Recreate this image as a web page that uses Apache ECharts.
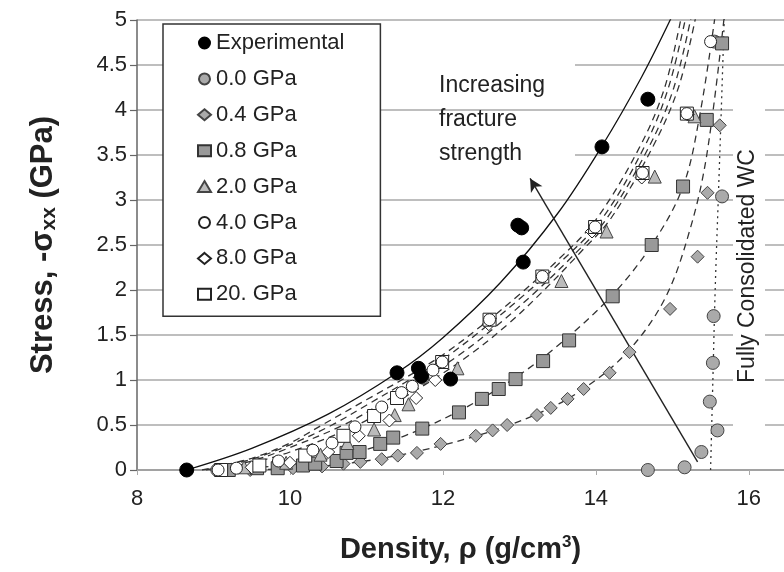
<!DOCTYPE html>
<html><head><meta charset="utf-8">
<script src="https://cdn.jsdelivr.net/npm/echarts@6/dist/echarts.min.js"></script>
<style>html,body{margin:0;padding:0;background:#fff}#c{width:784px;height:572px}</style>
</head><body><div id="c"></div>
<script>
// ---- tick settings
const xMin = 8, xMax = 16.46, xInterval = 2;
const yMin = 0, yMax = 5, yInterval = 0.5;

// ---- measured points [density, stress]
const experimental = [[8.65,0],[11.4,1.08],[11.68,1.13],[11.72,1.04],[12.1,1.01],[12.98,2.72],[13.03,2.69],[13.05,2.31],[14.08,3.59],[14.68,4.12]];
const gpa00 = [[9.05,0.0],[14.68,0.0],[15.16,0.03],[15.38,0.2],[15.59,0.44],[15.49,0.76],[15.53,1.19],[15.54,1.71],[15.65,3.04],[15.55,4.76]];
const gpa04 = [[9.48,0.0],[10.04,0.02],[10.42,0.04],[10.7,0.07],[10.92,0.09],[11.2,0.12],[11.41,0.16],[11.66,0.19],[11.97,0.29],[12.43,0.38],[12.65,0.44],[12.84,0.5],[13.23,0.61],[13.41,0.69],[13.63,0.79],[13.84,0.9],[14.18,1.08],[14.44,1.31],[14.97,1.79],[15.33,2.37],[15.46,3.08],[15.62,3.83]];
const gpa08 = [[9.2,0.0],[9.57,0.02],[9.84,0.02],[10.17,0.05],[10.33,0.07],[10.61,0.1],[10.74,0.19],[10.91,0.2],[11.18,0.29],[11.35,0.36],[11.73,0.46],[12.21,0.64],[12.51,0.79],[12.73,0.9],[12.95,1.01],[13.31,1.21],[13.65,1.44],[14.22,1.93],[14.73,2.5],[15.14,3.15],[15.45,3.89],[15.65,4.74]];
const gpa20 = [[9.4,0.03],[9.95,0.08],[10.4,0.17],[10.75,0.3],[11.1,0.45],[11.37,0.61],[11.55,0.73],[12.19,1.13],[13.55,2.1],[14.14,2.65],[14.77,3.26],[15.29,3.93]];
const gpa40 = [[9.06,0.0],[9.3,0.02],[9.85,0.1],[10.3,0.22],[10.55,0.3],[10.85,0.48],[11.2,0.7],[11.46,0.86],[11.6,0.93],[11.74,1.02],[11.87,1.11],[11.99,1.2],[12.61,1.67],[13.3,2.15],[13.99,2.7],[14.61,3.3],[15.19,3.96],[15.5,4.76]];
const gpa80 = [[9.5,0.03],[10.0,0.08],[10.5,0.2],[10.9,0.38],[11.3,0.55],[11.65,0.8],[11.9,1.0],[12.6,1.62],[13.95,2.65],[14.6,3.25],[15.2,3.95]];
const gpa200 = [[9.1,0.0],[9.6,0.05],[10.2,0.16],[10.7,0.38],[11.1,0.6],[11.4,0.8],[11.99,1.2],[12.61,1.67],[13.3,2.15],[13.99,2.7],[14.61,3.3],[15.19,3.96]];

// ---- fitted curves [density, stress]
const fitExperimental = [[8.65,0],[9.5,0.24],[10.5,0.62],[11.4,1.08],[12.0,1.47],[12.75,2.08],[13.5,2.85],[14.08,3.6],[14.6,4.37],[15.0,5.05]];
const fit200 = [[8.85,0],[9.5,0.13],[10.0,0.3],[10.42,0.5],[11.0,0.78],[11.5,1.02],[12.0,1.28],[12.5,1.6],[13.0,1.95],[13.5,2.33],[14.0,2.78],[14.58,3.6],[14.9,4.25],[15.12,5.05]];
const fit80 = [[8.9,0],[9.5,0.12],[10.0,0.28],[10.55,0.5],[11.0,0.72],[11.5,0.97],[12.0,1.23],[12.5,1.55],[13.0,1.9],[13.5,2.28],[14.07,2.78],[14.64,3.6],[14.95,4.25],[15.18,5.05]];
const fit40 = [[8.95,0],[9.5,0.1],[10.0,0.25],[10.7,0.5],[11.2,0.74],[11.7,1.0],[12.2,1.27],[12.7,1.6],[13.2,1.97],[13.7,2.38],[14.13,2.78],[14.7,3.6],[15.02,4.25],[15.25,5.05]];
const fit20 = [[9.0,0],[9.5,0.08],[10.0,0.2],[10.88,0.5],[11.4,0.76],[11.9,1.02],[12.35,1.28],[12.85,1.62],[13.3,1.98],[13.8,2.42],[14.2,2.8],[14.75,3.6],[15.08,4.25],[15.31,5.05]];
const fit08 = [[9.0,0],[10.0,0.06],[10.8,0.18],[11.5,0.38],[12.2,0.65],[12.9,1.0],[13.5,1.38],[14.2,1.93],[14.73,2.5],[15.14,3.15],[15.36,3.95],[15.56,5.05]];
const fit04 = [[9.4,0],[10.4,0.04],[11.4,0.16],[12.4,0.37],[13.2,0.61],[13.8,0.88],[14.4,1.3],[14.9,1.9],[15.23,2.67],[15.45,3.5],[15.68,5.05]];
const fit00 = [[15.5,0],[15.53,1.0],[15.56,2.0],[15.6,3.0],[15.64,4.0],[15.68,5.05]];

// ---- arrow and labels
const arrowStart = [15.33, 0.09];
const arrowEnd = [13.14, 3.24];
const annotationLines = ['Increasing', 'fracture', 'strength'];
const wallLabel = 'Fully Consolidated WC';
const legendNames = ['Experimental','0.0 GPa','0.4 GPa','0.8 GPa','2.0 GPa','4.0 GPa','8.0 GPa','20. GPa'];

const FONT = '"Liberation Sans", Arial, sans-serif';
const chart = echarts.init(document.getElementById('c'), null, {renderer:'canvas'});

function pts(name, data, symbol, fill, border, size) {
  return {name, type:'scatter', data, symbol, symbolSize:size, z:5,
    itemStyle:{color:fill, borderColor:border, borderWidth:1, opacity:1}};
}
function curve(name, data, type, color) {
  return {name, type:'line', data, showSymbol:false, smooth:0.35, z:3, silent:true,
    lineStyle:{color:color||'#333', width:1.3, type}};
}

const annoGraphics = annotationLines.map((t, i) => ({
  type:'text', left:439, top:74 + i*34, silent:true, z:2,
  style:{text:t, font:'23px ' + FONT, fill:'#222'}
}));

chart.setOption({
  animation:false,
  backgroundColor:'#fff',
  grid:{left:137, right:0, top:20, bottom:102, containLabel:false},
  xAxis:{type:'value', min:xMin, max:xMax, interval:xInterval,
    name:'Density, ρ (g/cm{p|3})', nameLocation:'middle', nameGap:64,
    nameTextStyle:{fontFamily:FONT, fontSize:29, fontWeight:'bold', color:'#222',
      rich:{p:{fontFamily:FONT, fontSize:17, fontWeight:'bold', color:'#222', padding:[0,0,14,0]}}},
    axisLine:{show:true, lineStyle:{color:'#999', width:1.5}},
    axisTick:{show:true, inside:false, length:5, lineStyle:{color:'#aaa', width:1}},
    axisLabel:{fontFamily:FONT, fontSize:22, color:'#222', margin:18, showMaxLabel:false},
    splitLine:{show:false}},
  yAxis:{type:'value', min:yMin, max:yMax, interval:yInterval,
    name:'Stress, -σ{s|xx} (GPa)', nameLocation:'middle', nameGap:77,
    nameTextStyle:{fontFamily:FONT, fontSize:31, fontWeight:'bold', color:'#222',
      rich:{s:{fontFamily:FONT, fontSize:21, fontWeight:'bold', color:'#222', padding:[13,0,0,0]}}},
    axisLine:{show:true, onZero:false, lineStyle:{color:'#666', width:1.5}},
    axisTick:{show:true, length:7, lineStyle:{color:'#666', width:1.2}},
    axisLabel:{fontFamily:FONT, fontSize:22, color:'#222', margin:10,
      formatter:v => String(Math.round(v*10)/10)},
    splitLine:{show:true, lineStyle:{color:'#a8a8a8', width:1.5}}},
  legend:{data:legendNames, orient:'vertical', left:163, top:24,
    padding:[8,36,11,34], itemGap:13.9, itemWidth:13, itemHeight:11,
    backgroundColor:'#fff', borderColor:'#333', borderWidth:1.5,
    textStyle:{fontFamily:FONT, fontSize:22, color:'#222'}, selectedMode:false},
  graphic:[
    {type:'rect', silent:true, z:1, shape:{x:381, y:57, width:194, height:12}, style:{fill:'#fff'}},
    {type:'rect', silent:true, z:1, shape:{x:381, y:149, width:194, height:12}, style:{fill:'#fff'}},
    {type:'rect', silent:true, z:1, shape:{x:733, y:100, width:32, height:333}, style:{fill:'#fff'}},
    ...annoGraphics,
    {type:'text', x:748, y:266, rotation:Math.PI/2, silent:true, z:2,
     style:{text:wallLabel, font:'23px ' + FONT, fill:'#222', textAlign:'center', textVerticalAlign:'middle'}}],
  series:[
    Object.assign(curve('fitExperimental', fitExperimental, 'solid', '#111'), {
      markLine:{silent:true, symbol:['none','arrow'], symbolSize:[10,13], animation:false,
        lineStyle:{color:'#222', width:1.4, type:'solid'}, label:{show:false},
        data:[[{coord:arrowStart},{coord:arrowEnd}]]}}),
    curve('fit200', fit200, [7,5]),
    curve('fit80', fit80, [7,5]),
    curve('fit40', fit40, [7,5]),
    curve('fit20', fit20, [7,5]),
    curve('fit08', fit08, [7,5]),
    curve('fit04', fit04, [7,5]),
    curve('fit00', fit00, [2,4]),
    pts('0.0 GPa', gpa00, 'circle', '#aaaaaa', '#444', 13),
    pts('0.4 GPa', gpa04, 'diamond', '#aaaaaa', '#444', 13),
    pts('0.8 GPa', gpa08, 'rect', '#999999', '#333', 13),
    pts('2.0 GPa', gpa20, 'triangle', '#bbbbbb', '#444', 13),
    pts('8.0 GPa', gpa80, 'diamond', '#ffffff', '#222', 13),
    pts('20. GPa', gpa200, 'rect', '#ffffff', '#222', 13),
    pts('4.0 GPa', gpa40, 'circle', '#ffffff', '#222', 12),
    pts('Experimental', experimental, 'circle', '#000000', '#000', 14)
  ]
});
</script></body></html>
